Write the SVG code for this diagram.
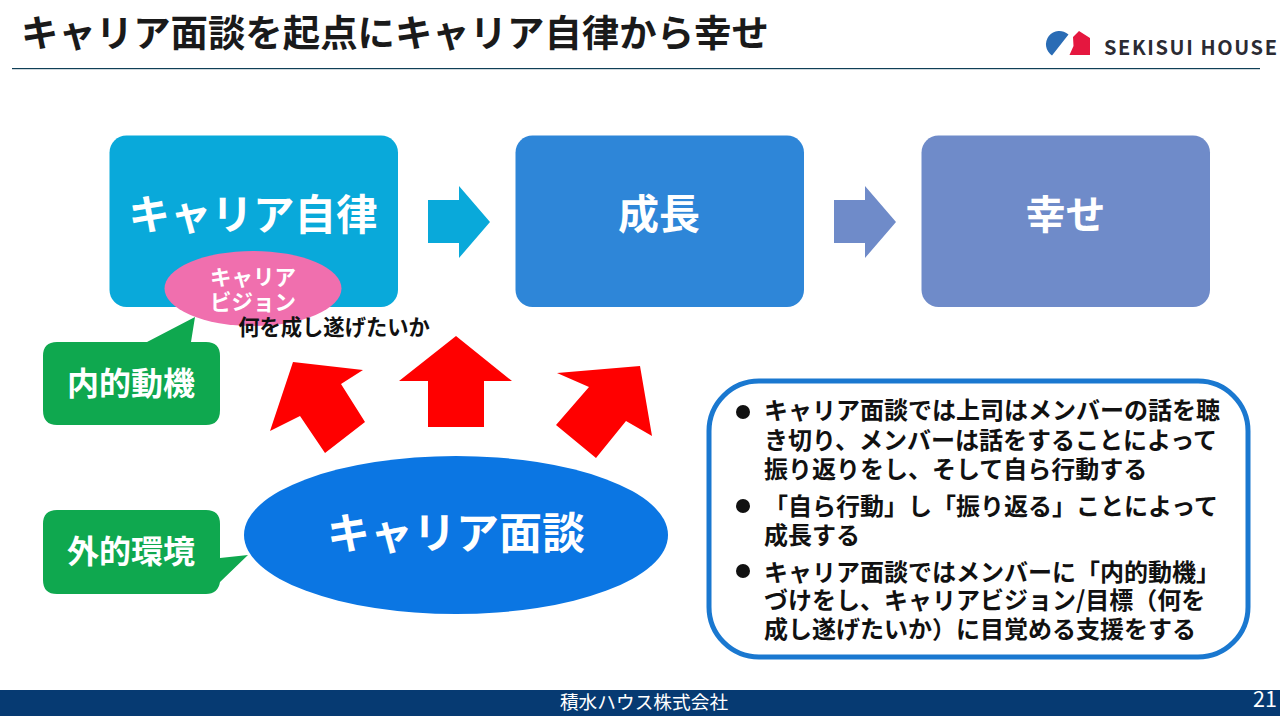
<svg xmlns="http://www.w3.org/2000/svg" width="1280" height="716" viewBox="0 0 1280 716">
<style>
text{font-family:"Noto Sans CJK JP","Noto Sans",sans-serif;font-weight:700}
.w{fill:#fff}
.c{text-anchor:middle}
.b{fill:#111;font-size:24px}
.red{fill:#ff0000}
.green{fill:#0fa84f}
</style>
<rect width="1280" height="716" fill="#fff"/>
<g id="title">
<text x="21" y="47" font-size="37.400" fill="#1a1a1a">キャリア面談を起点にキャリア自律から幸せ</text>
<rect x="12" y="68" width="1248" height="1.200" fill="#0f3f57"/>
</g>
<g id="logo">
<path d="M1068.500 34.500A13.400 13.400 0 1 0 1052 55.500Z" fill="#2a6cb5"/>
<path d="M1069.500 55L1073.500 46L1073 37L1079 31L1090 38L1090 55Z" fill="#e5173f"/>
<text x="1104" y="55" font-size="20" fill="#2b2b33" textLength="173" font-family="'Liberation Sans',sans-serif">SEKISUI HOUSE</text>
</g>
<g id="node-autonomy">
<rect x="109.500" y="135.500" width="288.500" height="171.500" rx="17" fill="#09a9da"/>
<text x="253" y="230" font-size="41.500" class="w c">キャリア自律</text>
</g>
<g id="node-growth">
<rect x="515.500" y="135.500" width="288.500" height="171.500" rx="17" fill="#2e86d8"/>
<text x="659" y="229" font-size="41" class="w c">成長</text>
</g>
<g id="node-happiness">
<rect x="921.500" y="135.500" width="288.500" height="171.500" rx="17" fill="#6f8bc9"/>
<text x="1065.500" y="229" font-size="40" class="w c">幸せ</text>
</g>
<g id="connectors">
<polygon points="428,200 459,200 459,186 490,222 459,258 459,243 428,243" fill="#09a9da"/>
<polygon points="834,200 865,200 865,186 896,222 865,258 865,243 834,243" fill="#6f8bc9"/>
<polygon class="red" points="293,362 363,370 341,384 365,422 325,453 300,416 270,431"/>
<polygon class="red" points="456,336 512,381 484,381 484,427 428,427 428,381 399,381"/>
<polygon class="red" points="640,366 652,436 626,421 596,458 556,425 589,387 557,373"/>
</g>
<g id="node-vision">
<ellipse cx="253" cy="288.500" rx="88.500" ry="37.500" fill="#f06fae"/>
<text font-size="21.500" class="w c"><tspan x="253" y="285">キャリア</tspan><tspan x="253" y="310">ビジョン</tspan></text>
</g>
<text id="vision-note" x="334" y="335" font-size="21.300" fill="#111" class="c">何を成し遂げたいか</text>
<g id="node-inner">
<path class="green" d="M59 342L147 342L195 317L191 342L206 342Q220 342 220 356L220 410Q220 425 206 425L57 425Q43 425 43 410L43 356Q43 342 57 342Z"/>
<text x="131" y="395" font-size="32" class="w c">内的動機</text>
</g>
<g id="node-outer">
<path class="green" d="M57 510L206 510Q220 510 220 524L220 558L248 555L220 582Q218 594 206 594L57 594Q43 594 43 580L43 524Q43 510 57 510Z"/>
<text x="131" y="563" font-size="32" class="w c">外的環境</text>
</g>
<g id="node-interview">
<ellipse cx="456" cy="535" rx="212" ry="79" fill="#0b76e3"/>
<text x="456" y="549" font-size="43" class="w c">キャリア面談</text>
</g>
<g id="notes">
<rect x="709" y="381" width="539" height="276" rx="50" fill="#fff" stroke="#1a78d0" stroke-width="5"/>
<circle cx="743" cy="412" r="7" fill="#111"/>
<circle cx="743" cy="506" r="7" fill="#111"/>
<circle cx="743" cy="571" r="7" fill="#111"/>
<text class="b"><tspan x="764" y="419">キャリア面談では上司はメンバーの話を聴</tspan><tspan x="764" y="449">き切り、メンバーは話をすることによって</tspan><tspan x="764" y="478">振り返りをし、そして自ら行動する</tspan></text>
<text class="b"><tspan x="764" y="515">「自ら行動」し「振り返る」ことによって</tspan><tspan x="764" y="544">成長する</tspan></text>
<text class="b"><tspan x="764" y="581">キャリア面談ではメンバーに「内的動機」</tspan><tspan x="764" y="609">づけをし、キャリアビジョン/目標（何を</tspan><tspan x="764" y="638">成し遂げたいか）に目覚める支援をする</tspan></text>
</g>
<g id="footer">
<rect y="690" width="1280" height="26" fill="#063a72"/>
<text x="644" y="709" font-size="18.700" fill="#fff" class="c" style="font-weight:400">積水ハウス株式会社</text>
<text x="1265" y="707" font-size="21.500" fill="#fff" class="c" style="font-weight:400">21</text>
</g>
</svg>
